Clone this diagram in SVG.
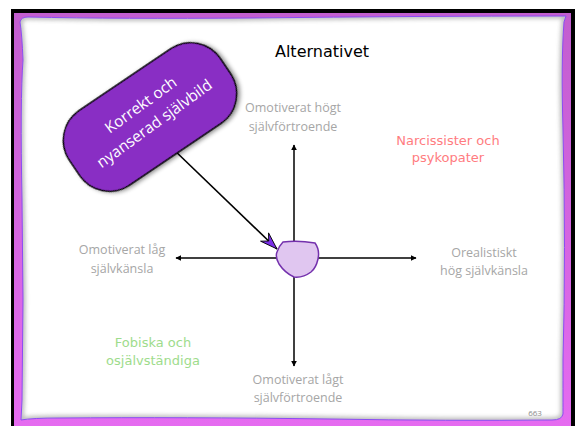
<svg xmlns="http://www.w3.org/2000/svg" width="579" height="426" viewBox="0 0 579 426">
  <style>
    .axis { stroke: #000; stroke-width: 1.5; fill: none; }
    .lbl { font-family: "Open Sans", "Liberation Sans", sans-serif; font-size: 12.5px; fill: #a6a6a6; text-anchor: middle; }
    .comic { font-family: "DejaVu Sans", "Liberation Sans", sans-serif; text-anchor: middle; }
    .blobtxt { font-family: "Open Sans", "Liberation Sans", sans-serif; font-size: 15.5px; fill: #fff; text-anchor: middle; }
  </style>
  <defs>
    <linearGradient id="frameGrad" x1="0" y1="0" x2="0" y2="1">
      <stop offset="0" stop-color="#c25ecf"/>
      <stop offset="1" stop-color="#e56bf0"/>
    </linearGradient>
    <filter id="soft" x="-10%" y="-10%" width="120%" height="120%">
      <feGaussianBlur stdDeviation="2.2"/>
    </filter>
    <filter id="drop" x="-20%" y="-20%" width="140%" height="140%">
      <feDropShadow dx="2" dy="2" stdDeviation="2" flood-color="#000" flood-opacity="0.45"/>
    </filter>
    <clipPath id="pageClip">
      <path id="pageShape" d="M20,22 Q21,17 28,17 Q120,19 250,18 Q420,16 566,16 L564,22 Q561,60 563,130 Q566,250 563,360 Q563,405 563,414 Q562,420 552,420 Q450,421 330,419 Q180,417 60,418 Q32,418 21,420 L22,400 Q24,300 22,200 Q20,100 23,60 Q22,35 20,22 Z"/>
    </clipPath>
    <marker id="tri" viewBox="0 0 10 10" refX="9" refY="5" markerWidth="4" markerHeight="4" orient="auto" markerUnits="strokeWidth">
      <path d="M0,0 L10,5 L0,10 Z" fill="#000"/>
    </marker>
    <marker id="stealth" viewBox="-19 -7 20 14" refX="0" refY="0" markerWidth="12" markerHeight="8.4" orient="auto" markerUnits="strokeWidth">
      <path d="M0,0 L-18,-6 L-12,0 L-18,6 Z" fill="#7a2fe8" stroke="#000" stroke-width="0.9"/>
    </marker>
  </defs>

  <!-- slide frame -->
  <rect x="0" y="0" width="579" height="426" fill="#fff"/>
  <rect x="11" y="9" width="564" height="417" fill="#000"/>
  <rect x="14" y="13" width="557" height="413" fill="url(#frameGrad)"/>

  <!-- paper with inner shade -->
  <use href="#pageShape" fill="#fff"/>
  <g clip-path="url(#pageClip)">
    <use href="#pageShape" fill="none" stroke="#7d7d7d" stroke-width="5" opacity="0.55" filter="url(#soft)"/>
  </g>
  <use href="#pageShape" fill="none" stroke="#8a4cf2" stroke-width="1"/>

  <!-- title -->
  <text class="comic" x="322" y="57" font-size="16" fill="#000">Alternativet</text>

  <!-- connectors -->
  <g id="connectors">
    <line class="axis" x1="294" y1="258" x2="294" y2="145" marker-end="url(#tri)"/>
    <line class="axis" x1="294" y1="258" x2="294" y2="366" marker-end="url(#tri)"/>
    <line class="axis" x1="294" y1="258" x2="176" y2="258" marker-end="url(#tri)"/>
    <line class="axis" x1="294" y1="258" x2="416" y2="258" marker-end="url(#tri)"/>
    <line x1="171" y1="147" x2="277" y2="249" stroke="#000" stroke-width="1.6" marker-end="url(#stealth)"/>
  </g>

  <!-- self-image callout -->
  <g id="selfimage">
    <rect x="-91" y="-45" width="182" height="90" rx="36" ry="36" transform="translate(150,117) rotate(-34)" fill="#892ec4" stroke="#000" stroke-width="1.5" filter="url(#drop)"/>
    <g transform="translate(148,115) rotate(-36)">
      <text class="blobtxt" x="0" y="-7">Korrekt och</text>
      <text class="blobtxt" x="0" y="16">nyanserad självbild</text>
    </g>
  </g>

  <!-- origin -->
  <g id="origin">
    <path d="M283,242 Q298,240 315,243 Q320,250 318,259 Q316,268 311,272 Q303,278 294,277 Q285,273 279,264 Q275,257 277,252 Q279,246 283,242 Z" fill="#e0c6f0" stroke="#7431ad" stroke-width="1.5"/>
  </g>

  <!-- axis labels -->
  <g id="top">
    <text class="lbl" x="293" y="112">Omotiverat högt</text>
    <text class="lbl" x="293" y="131">självförtroende</text>
  </g>
  <g id="left">
    <text class="lbl" x="122" y="254">Omotiverat låg</text>
    <text class="lbl" x="122" y="273">självkänsla</text>
  </g>
  <g id="right">
    <text class="lbl" x="484" y="257">Orealistiskt</text>
    <text class="lbl" x="484" y="275">hög självkänsla</text>
  </g>
  <g id="bottom">
    <text class="lbl" x="298" y="384">Omotiverat lågt</text>
    <text class="lbl" x="298" y="402">självförtroende</text>
  </g>

  <!-- quadrant labels -->
  <g id="narcissists">
    <text class="comic" x="448" y="145" font-size="13" fill="#ff7c80">Narcissister och</text>
    <text class="comic" x="448" y="162" font-size="13" fill="#ff7c80">psykopater</text>
  </g>
  <g id="phobics">
    <text class="comic" x="153" y="347" font-size="13" fill="#9edc8c">Fobiska och</text>
    <text class="comic" x="153" y="365" font-size="13" fill="#9edc8c">osjälvständiga</text>
  </g>

  <text x="535" y="416" font-family="Open Sans, Liberation Sans, sans-serif" font-size="8" fill="#8c8c8c" text-anchor="middle">663</text>
</svg>
